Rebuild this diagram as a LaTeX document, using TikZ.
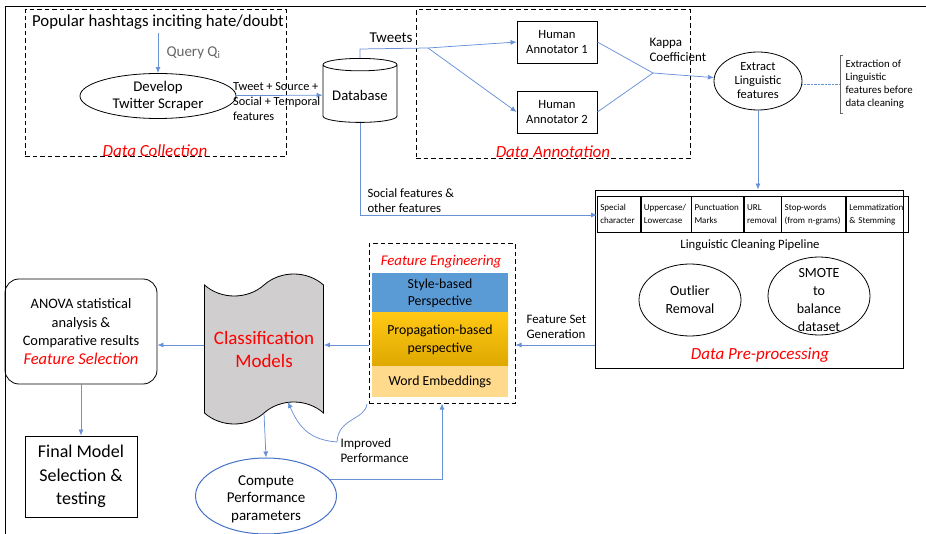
\documentclass[tikz,border=0pt]{standalone}
\usepackage{fontspec}
\setmainfont{Carlito}
\usetikzlibrary{arrows.meta,shapes.geometric,shapes.symbols}

\definecolor{arrowblue}{RGB}{105,145,215}
\definecolor{styleblue}{RGB}{91,155,213}
\definecolor{wordtan}{RGB}{255,217,140}
\definecolor{tapegray}{RGB}{208,206,206}
\definecolor{ellblue}{RGB}{68,114,196}
\newcommand\fsz[2]{\fontsize{#1}{#2}\selectfont}

\tikzset{
  flow/.style={arrowblue, line width=0.75pt, -{Latex[length=6pt,width=5pt]}},
  flowline/.style={arrowblue, line width=0.75pt},
  stagebox/.style={draw, line width=1pt, dash pattern=on 4.5pt off 3pt},
  stagetitle/.style={text=red, font=\fsz{17}{20}\itshape},
  annot/.style={draw, line width=0.8pt, minimum width=80pt, minimum height=42pt, align=center, font=\fsz{12.6}{15}},
  cell/.style={draw, line width=0.6pt, anchor=north west, minimum height=36pt, inner xsep=3pt, text width=#1, align=left, font=\fsz{9}{13}},
  oval/.style={ellipse, draw, line width=0.8pt},
}

\begin{document}
\begin{tikzpicture}[x=1pt,y=-1pt]
  \useasboundingbox (0,0) rectangle (926,534);
  \draw[line width=0.9pt] (5,534) -- (5,6) -- (926,6);

  %Data Collection
  \node[stagebox, minimum width=261pt, minimum height=147pt] (collect) at (155.5,83.5) {};
  \node[font=\fsz{16.8}{19}] (hashtags) at (158,22) {Popular hashtags inciting hate/doubt};
  \node[oval, minimum width=156pt, minimum height=45pt] (scraper) at (158,96) {};
  \node[align=center, font=\fsz{14.8}{17}] (scrapertext) at (scraper) {Develop\\Twitter Scraper};
  \draw[flow] (hashtags) -- (scraper);
  \node[anchor=west, text=black!60, font=\fsz{15}{17}] (query) at (163,53) {Query Q\textsubscript{i}};
  \node[stagetitle] (collecttitle) at (155,151) {Data Collection};

  %Database
  \node[cylinder, shape border rotate=90, draw, line width=0.8pt, aspect=0.2, minimum width=74pt, minimum height=64pt, font=\fsz{14.7}{16}] (db) at (360,95) {Database};
  \draw[flow] (scraper) -- (db);
  \node[anchor=north west, align=left, inner sep=0pt, font=\fsz{12.3}{15}] (scraperlab) at (233,82) {Tweet + Source +\\Social + Temporal\\features};

  %Data Annotation
  \node[stagebox, minimum width=274pt, minimum height=149pt] (annotate) at (553,84.5) {};
  \node[annot] (ann1) at (557,42) {Human\\Annotator 1};
  \node[annot] (ann2) at (557,112) {Human\\Annotator 2};
  \coordinate (tw1) at (360,49);
  \coordinate (tw2) at (428,48);
  \draw[flowline] (db.north) -- (tw1) -- (tw2);
  \draw[flow] (tw2) -- (ann1.west);
  \draw[flow] (tw2) -- (ann2.west);
  \node[font=\fsz{15}{17}] (tweets) at (391,38) {Tweets};
  \coordinate (kappa) at (653,73);
  \draw[flowline] (ann1.east) -- (kappa) -- (ann2.east);
  \node[anchor=west, align=left, font=\fsz{13}{15}] (kappalab) at (646,50) {Kappa\\Coefficient};
  \node[stagetitle] (annotitle) at (553,152) {Data Annotation};

  %Extract
  \node[oval, minimum width=88pt, minimum height=58pt] (extract) at (758,81) {};
  \node[align=center, font=\fsz{12.5}{14}] (extracttext) at (extract) {Extract\\Linguistic\\features};
  \draw[flow] (kappa) -- (extract);
  \coordinate (note) at (840,84);
  \draw[arrowblue, densely dotted] (extract.east |- note) -- (note);
  \draw[black!60] (843,55) -- (840,55) -- (840,113) -- (843,113);
  \node[anchor=west, align=left, font=\fsz{10.8}{13}] (notelab) at (842,84) {Extraction of\\Linguistic\\features before\\data cleaning};

  %Data Pre-processing
  \node[draw, line width=0.9pt, minimum width=308pt, minimum height=178pt] (pre) at (749,279) {};
  \node[cell=37pt] (c1) at (597,196) {Special\\character};
  \node[cell=44pt] (c2) at (c1.north east) {Uppercase/\\Lowercase};
  \node[cell=46pt] (c3) at (c2.north east) {Punctuation\\Marks};
  \node[cell=31pt] (c4) at (c3.north east) {URL\\removal};
  \node[cell=58pt] (c5) at (c4.north east) {Stop-words\\(from n-grams)};
  \node[cell=56pt] (c6) at (c5.north east) {Lemmatization\\\& Stemming};
  \node[font=\fsz{12.7}{14}] (pipeline) at (750,245) {Linguistic Cleaning Pipeline};
  \node[oval, minimum width=102pt, minimum height=72pt] (outlier) at (690,300) {};
  \node[align=center, font=\fsz{14}{18}] (outliertext) at (outlier) {Outlier\\Removal};
  \node[oval, minimum width=102pt, minimum height=78pt] (smote) at (819,296) {};
  \node[align=center, font=\fsz{14}{18}] (smotetext) at (819,300) {SMOTE\\to\\balance\\dataset};
  \node[stagetitle] (pretitle) at (760,355) {Data Pre-processing};
  \draw[flow] (extract.south) -- (extract.south |- pre.north);
  \coordinate (soc) at (360,215);
  \draw[flowline] (db.south) -- (soc);
  \draw[flow] (soc) -- (soc -| c1.west);
  \node[anchor=west, align=left, font=\fsz{12.7}{15}] (soclab) at (364,201) {Social features \&\\other features};

  %Feature Engineering
  \node[stagebox, minimum width=146pt, minimum height=159pt] (fe) at (442,323.5) {};
  \node[stagetitle, font=\fsz{14.8}{17}\itshape] (fetitle) at (441,262) {Feature Engineering};
  \node[fill=styleblue, minimum width=136pt, minimum height=40pt, align=center, font=\fsz{13.8}{17}] (stylebased) at (440,293) {Style-based\\Perspective};
  \node[top color={rgb,255:red,255;green,200;blue,20}, bottom color={rgb,255:red,222;green,168;blue,0}, minimum width=136pt, minimum height=53pt, align=center, font=\fsz{13.8}{18}] (propbased) at (440,339.5) {Propagation-based\\perspective};
  \node[fill=wordtan, minimum width=136pt, minimum height=31pt, font=\fsz{13.8}{16}] (wordemb) at (440,381.5) {Word Embeddings};
  \coordinate (fsg) at (595,345);
  \draw[flow] (fsg) -- (fsg -| fe.east);
  \node[anchor=west, align=left, font=\fsz{12.9}{15}] (fsglab) at (523,327) {Feature Set\\Generation};

  %Classification
  \node[tape, draw, fill=tapegray, line width=0.8pt, minimum width=119pt, minimum height=150pt, tape bend height=22pt, text=red, align=center, font=\fsz{19}{23}] (classify) at (264,349) {Classification\\Models};
  \coordinate (fein) at (fe.west |- fsg);
  \draw[flow] (fein) -- (fein -| classify.east);

  %Feature Selection + final
  \node[draw, rounded corners=14pt, line width=0.8pt, minimum width=152pt, minimum height=105pt, align=center, font=\fsz{14.4}{18.5}] (anova) at (81,331.5) {ANOVA statistical\\analysis \&\\Comparative results\\\textcolor{red}{\fsz{16.5}{18.5}\itshape Feature Selection}};
  \draw[flow] (classify.west |- fsg) -- (classify.west |- fsg -| anova.east);
  \node[draw, line width=0.8pt, minimum width=112pt, minimum height=81pt, align=center, font=\fsz{18}{23.5}] (final) at (81,476.5) {Final Model\\Selection \&\\testing};
  \draw[flow] (anova) -- (final);

  %Compute Performance
  \node[ellipse, draw=ellblue, line width=1pt, minimum width=141pt, minimum height=76pt] (compute) at (266,496) {};
  \node[align=center, font=\fsz{15}{17.5}] (computetext) at (266,499) {Compute\\Performance\\parameters};
  \draw[flow] (classify.south) -- (compute.north);
  \draw[flow] (compute.15) -| (fe.south);
  \coordinate (improve) at (288,402);
  \draw[flowline, -{Latex[length=6pt,width=5pt]}] (367,404) .. controls (365,420) and (338,418) .. (337,442) .. controls (312,440) and (300,430) .. (improve);
  \node[anchor=west, align=left, font=\fsz{13}{15}] (implab) at (337,451) {Improved\\Performance};
\end{tikzpicture}
\end{document}
